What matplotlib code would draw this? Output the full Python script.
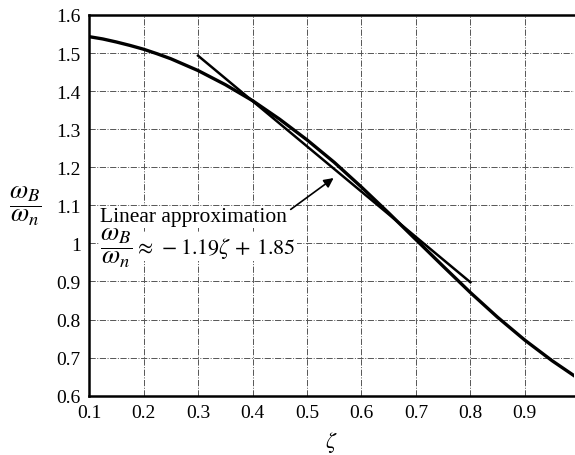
import matplotlib
matplotlib.use("Agg")
import matplotlib.pyplot as plt

# bandwidth ratio curve
zeta = [0.100, 0.125, 0.150, 0.175, 0.200, 0.225, 0.250, 0.30, 0.35, 0.40, 0.45, 0.50, 0.55,
        0.60, 0.65, 0.70, 0.75, 0.80, 0.85, 0.90, 0.95, 0.99]
ratio = [1.543, 1.537, 1.529, 1.520, 1.510, 1.498, 1.485, 1.454, 1.417, 1.375, 1.326, 1.272, 1.213,
         1.148, 1.080, 1.010, 0.940, 0.871, 0.806, 0.746, 0.692, 0.653]

# linear approximation end points
lin_zeta = [0.30, 0.80]
lin_ratio = [1.493, 0.898]

xticks = [0.1, 0.2, 0.3, 0.4, 0.5, 0.6, 0.7, 0.8, 0.9]
xticklabels = ["0.1", "0.2", "0.3", "0.4", "0.5", "0.6", "0.7", "0.8", "0.9"]
yticks = [0.6, 0.7, 0.8, 0.9, 1.0, 1.1, 1.2, 1.3, 1.4, 1.5, 1.6]
yticklabels = ["0.6", "0.7", "0.8", "0.9", "1", "1.1", "1.2", "1.3", "1.4", "1.5", "1.6"]

plt.rcParams["font.family"] = "Liberation Serif"
plt.rcParams["mathtext.fontset"] = "stix"

fig = plt.figure(figsize=(5.75, 4.56), dpi=100)
ax = fig.add_axes([0.155, 0.13, 0.843, 0.835])

ax.plot(zeta, ratio, color="black", linewidth=2.4, zorder=3)
ax.plot(lin_zeta, lin_ratio, color="black", linewidth=1.8, zorder=3)

ax.set_xlim(0.1, 0.99)
ax.set_ylim(0.6, 1.6)
ax.set_xticks(xticks)
ax.set_xticklabels(xticklabels)
ax.set_yticks(yticks)
ax.set_yticklabels(yticklabels)
ax.tick_params(length=0, labelsize=14, pad=6)
ax.grid(True, color="#555555", linestyle="-.", linewidth=0.7)

for side in ["left", "bottom", "top"]:
    ax.spines[side].set_linewidth(1.8)
ax.spines["right"].set_visible(False)

ax.set_xlabel(r"$\zeta$", fontsize=16, labelpad=6)
ax.set_ylabel(r"$\dfrac{\omega_B}{\omega_n}$", fontsize=19, rotation=0, labelpad=22, va="center")

box = dict(facecolor="white", edgecolor="none", pad=1)
ax.text(0.12, 1.07, "Linear approximation", fontsize=15.5, ha="left", va="center",
        bbox=box, zorder=4)
ax.text(0.12, 0.99, r"$\dfrac{\omega_B}{\omega_n}$", fontsize=19,
        ha="left", va="center", bbox=box, zorder=4)
ax.text(0.183, 0.99, r"$\approx\, -1.19\zeta\, +\, 1.85$", fontsize=16,
        ha="left", va="center", bbox=box, zorder=4)
ax.annotate("", xy=(0.553, 1.176), xytext=(0.466, 1.085),
            arrowprops=dict(arrowstyle="-|>", color="black", lw=1.2, mutation_scale=14),
            zorder=5)

fig.savefig("out.png", dpi=100)
